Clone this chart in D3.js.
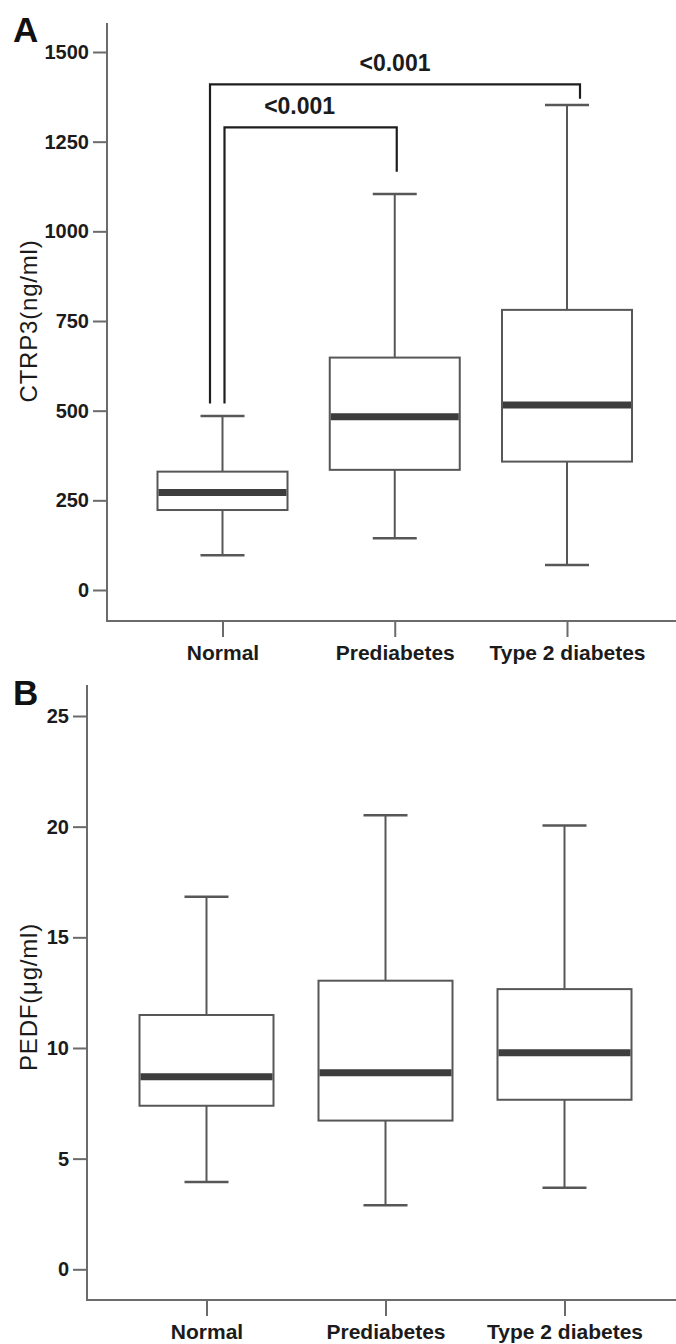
<!DOCTYPE html>
<html>
<head>
<meta charset="utf-8">
<script src="https://cdn.jsdelivr.net/npm/d3@7"></script>
<style>
  html, body { margin: 0; padding: 0; background: #fff; }
  svg { display: block; font-family: "Liberation Sans", Arial, Helvetica, sans-serif; }
</style>
</head>
<body>
<div id="chart"></div>
<script>
// groups on the x axis (same for both panels)
const groups = ["Normal", "Prediabetes", "Type 2 diabetes"];

// Panel A: CTRP3 (ng/ml) box stats
const ctrp3Low = [97, 144, 70];
const ctrp3Q1 = [223, 335, 358];
const ctrp3Median = [272, 483, 516];
const ctrp3Q3 = [330, 648, 781];
const ctrp3High = [485, 1104, 1352];
const ctrp3Ticks = [0, 250, 500, 750, 1000, 1250, 1500];

// Panel B: PEDF (ug/ml) box stats
const pedfLow = [3.94, 2.89, 3.69];
const pedfQ1 = [7.39, 6.72, 7.66];
const pedfMedian = [8.70, 8.88, 9.79];
const pedfQ3 = [11.49, 13.04, 12.66];
const pedfHigh = [16.83, 20.52, 20.05];
const pedfTicks = [0, 5, 10, 15, 20, 25];

// significance brackets on panel A: [from group, to group], p label
const comparisons = [["Normal", "Prediabetes"], ["Normal", "Type 2 diabetes"]];
const pLabels = ["<0.001", "<0.001"];

const W = 676, H = 1344;
const svg = d3.select("#chart").append("svg")
    .attr("width", W)
    .attr("height", H);

const AXIS_COLOR = "#6b6b6b";
const BOX_COLOR = "#575757";
const MEDIAN_COLOR = "#3d3d3d";
const TEXT_COLOR = "#1b1b1b";

const drawPanel = (cfg) => {
    const g = svg.append("g");

    const x = d3.scalePoint().domain(groups).range(cfg.xRange);
    const y = d3.scaleLinear().domain([0, d3.max(cfg.ticks)]).range(cfg.yRange);

    const data = groups.map((name, i) => ({
        name,
        low: cfg.low[i], q1: cfg.q1[i], median: cfg.median[i], q3: cfg.q3[i], high: cfg.high[i]
    }));

    // axes
    const yAxis = d3.axisLeft(y)
        .tickValues(cfg.ticks)
        .tickFormat(d3.format("d"))
        .tickSize(14)
        .tickPadding(4)
        .tickSizeOuter(0);

    const yg = g.append("g")
        .attr("transform", `translate(${cfg.axisX},0)`)
        .call(yAxis);
    yg.select(".domain").remove();
    yg.selectAll(".tick line").attr("stroke", AXIS_COLOR).attr("stroke-width", 2);
    yg.selectAll(".tick text")
        .attr("fill", TEXT_COLOR)
        .attr("font-size", 20)
        .attr("font-weight", "bold");

    const xAxis = d3.axisBottom(x).tickSize(16).tickSizeOuter(0);
    const xg = g.append("g")
        .attr("transform", `translate(0,${cfg.xAxisY})`)
        .call(xAxis);
    xg.select(".domain").remove();
    xg.selectAll(".tick line").attr("stroke", AXIS_COLOR).attr("stroke-width", 2);
    xg.selectAll(".tick text")
        .attr("y", 39)
        .attr("dy", null)
        .attr("fill", TEXT_COLOR)
        .attr("font-size", 21)
        .attr("font-weight", "bold");

    // frame lines (left and bottom)
    g.append("path")
        .attr("d", `M${cfg.axisX},${cfg.yAxisTop}V${cfg.xAxisY}H${W}`)
        .attr("fill", "none")
        .attr("stroke", AXIS_COLOR)
        .attr("stroke-width", 2);

    // y title
    g.append("text")
        .attr("transform", `translate(37,${cfg.titleY}) rotate(-90)`)
        .attr("text-anchor", "middle")
        .attr("fill", TEXT_COLOR)
        .attr("font-size", 24)
        .attr("letter-spacing", 0.8)
        .text(cfg.title);

    // panel letter
    g.append("text")
        .attr("x", 13)
        .attr("y", cfg.letterY)
        .attr("fill", "#111")
        .attr("font-size", 35)
        .attr("font-weight", "bold")
        .text(cfg.letter);

    // boxes
    const box = g.append("g").selectAll("g")
        .data(data)
        .join("g");

    const half = cfg.boxW / 2, cap = 22;

    box.append("line")
        .attr("x1", d => x(d.name)).attr("x2", d => x(d.name))
        .attr("y1", d => y(d.high)).attr("y2", d => y(d.q3))
        .attr("stroke", BOX_COLOR).attr("stroke-width", 2);
    box.append("line")
        .attr("x1", d => x(d.name)).attr("x2", d => x(d.name))
        .attr("y1", d => y(d.q1)).attr("y2", d => y(d.low))
        .attr("stroke", BOX_COLOR).attr("stroke-width", 2);
    box.append("line")
        .attr("x1", d => x(d.name) - cap).attr("x2", d => x(d.name) + cap)
        .attr("y1", d => y(d.high)).attr("y2", d => y(d.high))
        .attr("stroke", BOX_COLOR).attr("stroke-width", 2.5);
    box.append("line")
        .attr("x1", d => x(d.name) - cap).attr("x2", d => x(d.name) + cap)
        .attr("y1", d => y(d.low)).attr("y2", d => y(d.low))
        .attr("stroke", BOX_COLOR).attr("stroke-width", 2.5);
    box.append("rect")
        .attr("x", d => x(d.name) - half)
        .attr("width", cfg.boxW)
        .attr("y", d => y(d.q3))
        .attr("height", d => y(d.q1) - y(d.q3))
        .attr("fill", "#fff")
        .attr("stroke", BOX_COLOR)
        .attr("stroke-width", 2);
    box.append("line")
        .attr("x1", d => x(d.name) - half + 1).attr("x2", d => x(d.name) + half - 1)
        .attr("y1", d => y(d.median)).attr("y2", d => y(d.median))
        .attr("stroke", MEDIAN_COLOR).attr("stroke-width", 7);

    return { g, x, y };
};

const panelA = drawPanel({
    letter: "A", letterY: 42,
    title: "CTRP3(ng/ml)", titleY: 321,
    axisX: 107, yAxisTop: 23, xAxisY: 621,
    yRange: [590, 52], xRange: [222.5, 567],
    boxW: 130, ticks: ctrp3Ticks,
    low: ctrp3Low, q1: ctrp3Q1, median: ctrp3Median, q3: ctrp3Q3, high: ctrp3High
});

drawPanel({
    letter: "B", letterY: 705,
    title: "PEDF(\u03bcg/ml)", titleY: 997,
    axisX: 87, yAxisTop: 685, xAxisY: 1300,
    yRange: [1269.3, 716], xRange: [206.5, 564.5],
    boxW: 134, ticks: pedfTicks,
    low: pedfLow, q1: pedfQ1, median: pedfMedian, q3: pedfQ3, high: pedfHigh
});

// significance brackets on panel A
const bracketLevel = [1290, 1410];   // height of horizontal bar (ng/ml)
const legFoot = 520;                  // both left legs end here
const leftShift = [2, -12.5], rightShift = [2, 13];
const rightGap = [62, 18];            // gap above the whisker cap of the right group (ng/ml)
const textShift = [-11, 0];

const { g: gA, x: xA, y: yA } = panelA;
comparisons.forEach(([from, to], i) => {
    const toIdx = groups.indexOf(to);
    const x1 = xA(from) + leftShift[i];
    const x2 = xA(to) + rightShift[i];
    const yTop = yA(bracketLevel[i]);
    gA.append("path")
        .attr("d", `M${x1},${yA(legFoot)}V${yTop}H${x2}V${yA(ctrp3High[toIdx] + rightGap[i])}`)
        .attr("fill", "none")
        .attr("stroke", "#1e1e1e")
        .attr("stroke-width", 2.2);
    gA.append("text")
        .attr("x", (x1 + x2) / 2 + textShift[i])
        .attr("y", yTop - 13)
        .attr("text-anchor", "middle")
        .attr("fill", TEXT_COLOR)
        .attr("font-size", 23)
        .attr("font-weight", "bold")
        .text(pLabels[i]);
});
</script>
</body>
</html>
